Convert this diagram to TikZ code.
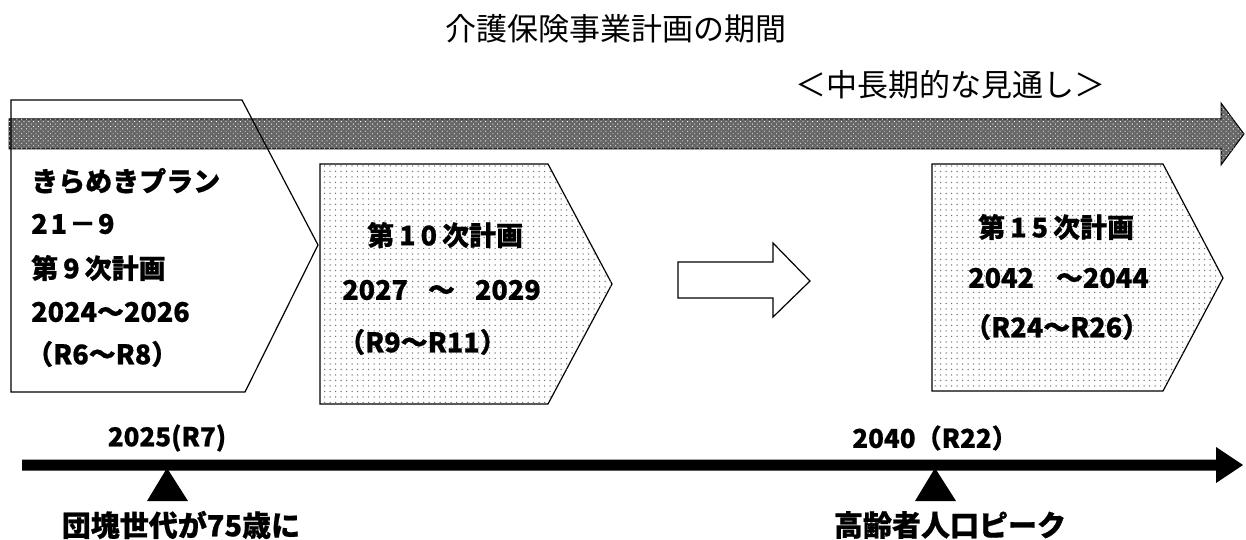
\documentclass[tikz,border=0pt]{standalone}
\usepackage{fontspec}
\setmainfont{Noto Sans CJK JP}[BoldFeatures={FakeBold=0.7}]
\usetikzlibrary{patterns.meta}
\tikzset{
  box/.style={line width=1.2pt, draw=black},
  dotbox/.style={box, fill=white, postaction={pattern={Dots[distance=5.5pt, radius=0.75pt]}, pattern color=black!55}},
  hatch/.style={line width=1pt, draw=black, fill=black!60, postaction={pattern={Dots[distance=3.4pt, radius=0.6pt, angle=45]}, pattern color=white}},
  btxt/.style={font=\bfseries\fontsize{27}{30}\selectfont, inner sep=0pt, anchor=west},
  ttl/.style={font=\fontsize{31}{34}\selectfont, inner sep=0pt},
  lbl/.style={font=\bfseries\fontsize{26}{30}\selectfont, inner sep=0pt},
  blk/.style={font=\bfseries\fontsize{29}{32}\selectfont, inner sep=0pt},
}
\newcommand{\nsp}{\hspace{5pt}}
\begin{document}
\begin{tikzpicture}[x=1pt,y=-1pt]
\useasboundingbox (0,0) rectangle (1246,540);
% title
\node[ttl] (title) at (616,29) {介護保険事業計画の期間};
\node[ttl] (vision) at (950,85) {＜中長期的な見通し＞};
% long hatched arrow
\draw[hatch] (9,119) -- (1221,119) -- (1221,103) -- (1244,134) -- (1221,165) -- (1221,149) -- (9,149) -- cycle;
% plan 9 pentagon (outline only)
\draw[box] (11,100) -- (242,100) -- (318,245) -- (245,392) -- (11,392) -- cycle;
\node[btxt] (p9a) at (31,181) {きらめきプラン};
\node[btxt] (p9b) at (31,224) {2\hspace{3pt}1\hspace{2pt}－\hspace{2pt}9};
\node[btxt] (p9c) at (31,268) {第\nsp 9\nsp 次計画};
\node[btxt] (p9d) at (31,312) {2024～2026};
\node[btxt] (p9e) at (26,354) {（R6～R8）};
% plan 10
\draw[dotbox] (320,164) -- (548,164) -- (612,284) -- (548,404) -- (320,404) -- cycle;
\node[btxt] (p10a) at (367,235) {第\nsp 1\nsp 0\nsp 次計画};
\node[btxt] (p10b) at (342,290) {2027\hspace{20pt}～\hspace{20pt}2029};
\node[btxt] (p10c) at (338,342) {（R9～R11）};
% outline arrow
\draw[box] (678,262) -- (773,262) -- (773,243) -- (810,281) -- (773,317) -- (773,298) -- (678,298) -- cycle;
% plan 15
\draw[dotbox] (932,164) -- (1163,164) -- (1223,278) -- (1163,391) -- (932,391) -- cycle;
\node[btxt] (p15a) at (978,227) {第\nsp 1\nsp 5\nsp 次計画};
\node[btxt] (p15b) at (968,278) {2042\hspace{22pt}～2044};
\node[btxt] (p15c) at (964,327) {（R24～R26）};
% timeline
\coordinate (tl0) at (22,465);
\coordinate (tl1) at (1216,465);
\fill (22,459.5) -- (1216,459.5) -- (1216,447) -- (1243,465) -- (1216,483) -- (1216,470.5) -- (22,470.5) -- cycle;
\fill (167,468) -- (188,501) -- (147,501) -- cycle;
\fill (935,468) -- (956,501) -- (915,501) -- cycle;
\node[lbl] (y2025) at (167,438) {2025(R7)};
\node[lbl] (y2040) at (935,438) {2040（R22）};
\node[blk] (dankai) at (181,525) {団塊世代が75歳に};
\node[blk] (peak) at (950,525) {高齢者人口ピーク};
\end{tikzpicture}
\end{document}
